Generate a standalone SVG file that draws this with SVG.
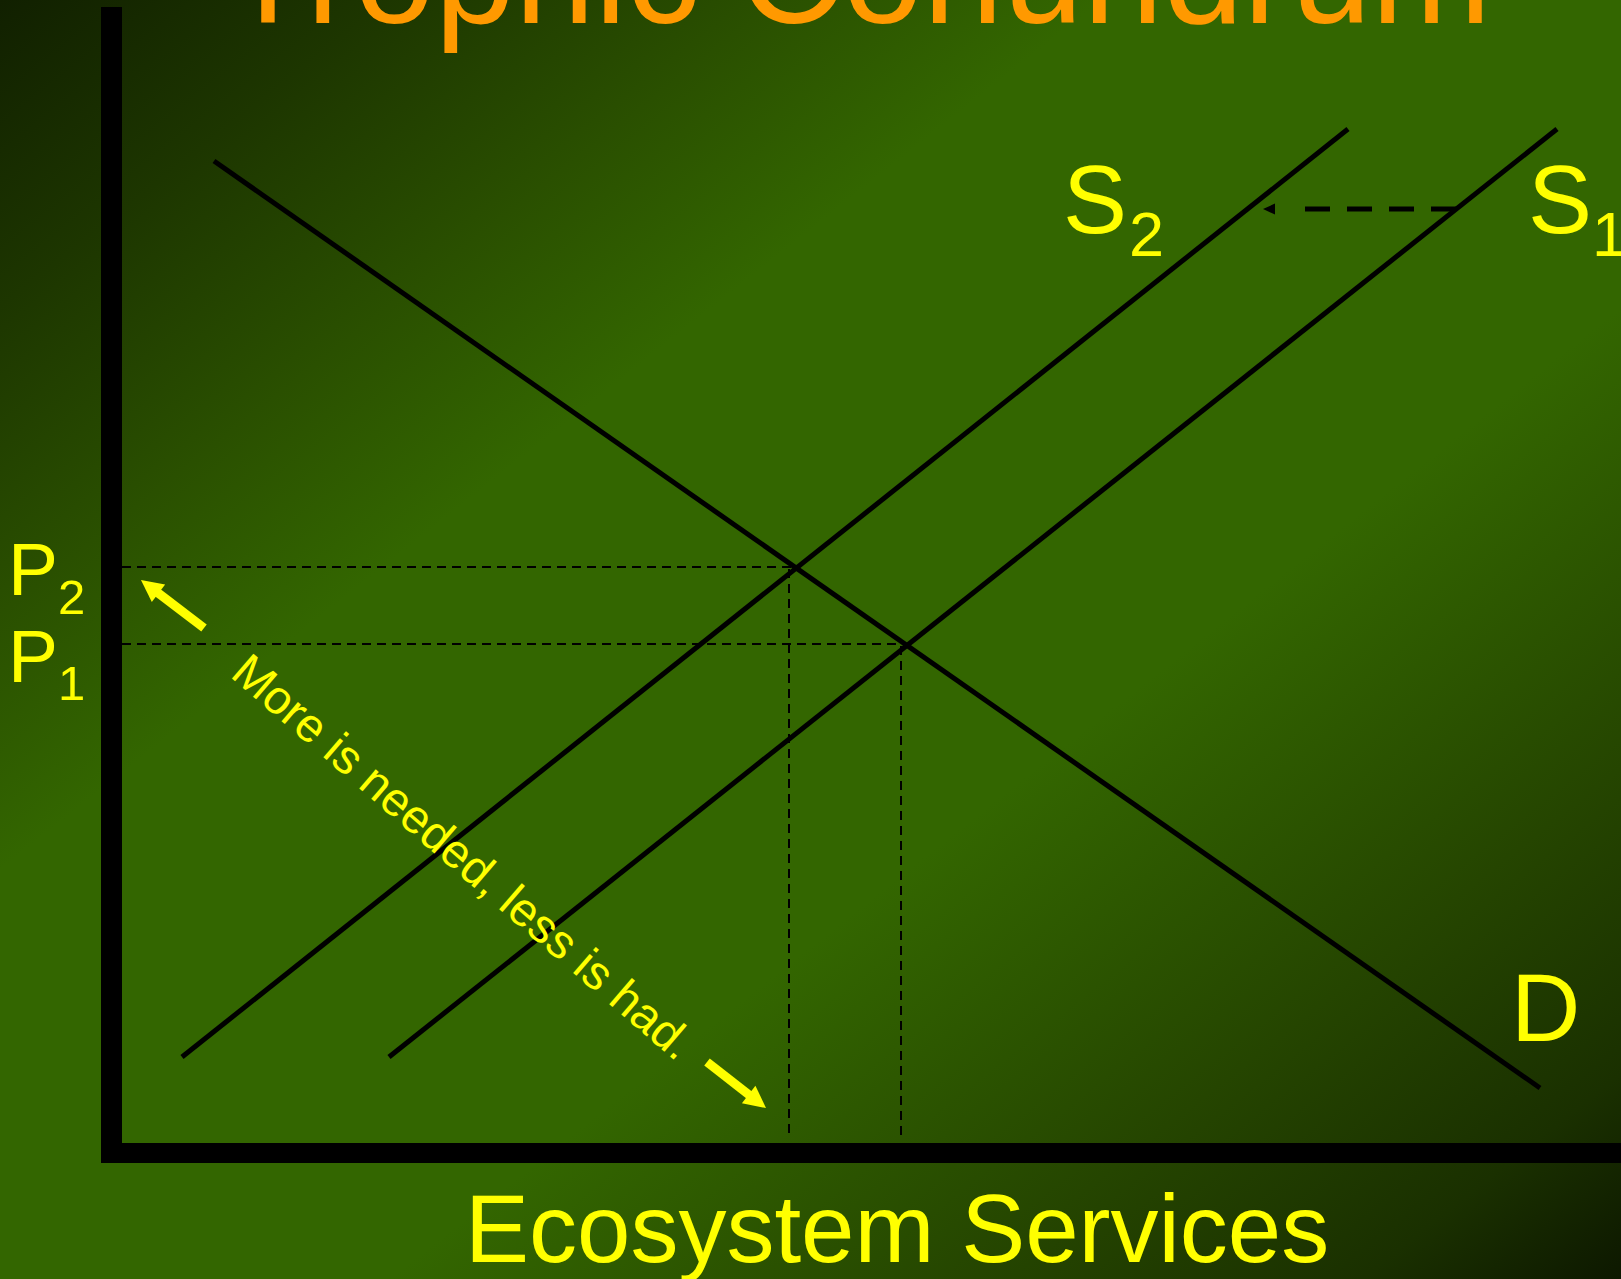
<svg xmlns="http://www.w3.org/2000/svg" width="1621" height="1279" viewBox="0 0 1621 1279">
  <defs>
    <linearGradient id="bg" x1="0" y1="0" x2="1" y2="1">
      <stop offset="0" stop-color="#112000"/>
      <stop offset="0.12" stop-color="#1d3600"/>
      <stop offset="0.24" stop-color="#2a5000"/>
      <stop offset="0.34" stop-color="#336600"/>
      <stop offset="0.62" stop-color="#336600"/>
      <stop offset="0.8" stop-color="#254500"/>
      <stop offset="0.92" stop-color="#1a3000"/>
      <stop offset="1" stop-color="#0d1800"/>
    </linearGradient>
    <marker id="blackHead" markerUnits="userSpaceOnUse" markerWidth="60" markerHeight="20" refX="0" refY="0" orient="auto" overflow="visible">
      <path d="M30,-5.5 L42,0 L30,5.5 z" fill="#000"/>
    </marker>
    <marker id="yellowHead" markerUnits="userSpaceOnUse" markerWidth="30" markerHeight="30" refX="0" refY="0" orient="auto" overflow="visible">
      <path d="M-6,-11 L16,0 L-6,11 z" fill="#ffff00"/>
    </marker>
    <style>
      .curve { stroke: #000; stroke-width: 5; fill: none; }
      .guide { stroke: #000; stroke-width: 2; stroke-dasharray: 9 6; fill: none; }
      .shift { stroke: #000; stroke-width: 5; stroke-dasharray: 25 17; fill: none; }
      .ylw { stroke: #ffff00; stroke-width: 9; fill: none; }
      .lbl { font-family: "Liberation Sans", Arial, sans-serif; fill: #ffff00; }
      .title { font-family: "Liberation Sans", Arial, sans-serif; fill: #ff9900; font-size: 144px; }
    </style>
  </defs>

  <rect x="0" y="0" width="1621" height="1279" fill="url(#bg)"/>

  <g id="title">
    <text class="title" x="224" y="23">Trophic Conundrum</text>
  </g>

  <g id="axes">
    <rect x="101" y="7" width="21" height="1156" fill="#000"/>
    <rect x="101" y="1143" width="1520" height="20" fill="#000"/>
  </g>

  <g id="connectors">
    <g id="guides">
      <line class="guide" x1="122" y1="567" x2="796" y2="567"/>
      <line class="guide" x1="122" y1="644" x2="905" y2="644"/>
      <line class="guide" x1="789" y1="569" x2="789" y2="1135"/>
      <line class="guide" x1="901" y1="646" x2="901" y2="1135"/>
    </g>
    <line id="demand" class="curve" x1="214" y1="161" x2="1540" y2="1088"/>
    <line id="supply2" class="curve" x1="182" y1="1057" x2="1348" y2="129"/>
    <line id="supply1" class="curve" x1="389" y1="1057" x2="1557" y2="129"/>
    <path id="shift-arrow" class="shift" d="M1456,209 L1305,209" marker-end="url(#blackHead)"/>
    <path id="arrow-up" class="ylw" d="M204,628 L153.7,589.7" marker-end="url(#yellowHead)"/>
    <path id="arrow-down" class="ylw" d="M707,1062 L753.4,1098.2" marker-end="url(#yellowHead)"/>
  </g>

  <g id="label-S2">
    <text class="lbl" x="1063" y="233" font-size="96">S</text>
    <text class="lbl" x="1129" y="256" font-size="63">2</text>
  </g>
  <g id="label-S1">
    <text class="lbl" x="1528" y="233" font-size="96">S</text>
    <text class="lbl" x="1592" y="256" font-size="63">1</text>
  </g>
  <g id="label-D">
    <text class="lbl" x="1511" y="1041" font-size="96">D</text>
  </g>
  <g id="label-P2">
    <text class="lbl" x="8" y="595" font-size="75">P</text>
    <text class="lbl" x="58" y="614" font-size="49">2</text>
  </g>
  <g id="label-P1">
    <text class="lbl" x="8" y="682" font-size="75">P</text>
    <text class="lbl" x="58" y="700" font-size="49">1</text>
  </g>
  <g id="annotation">
    <text class="lbl" x="229" y="676" font-size="47.5" transform="rotate(40.8 229 676)">More is needed, less is had.</text>
  </g>
  <g id="x-axis-label">
    <text class="lbl" x="465" y="1262" font-size="96">Ecosystem Services</text>
  </g>
</svg>
